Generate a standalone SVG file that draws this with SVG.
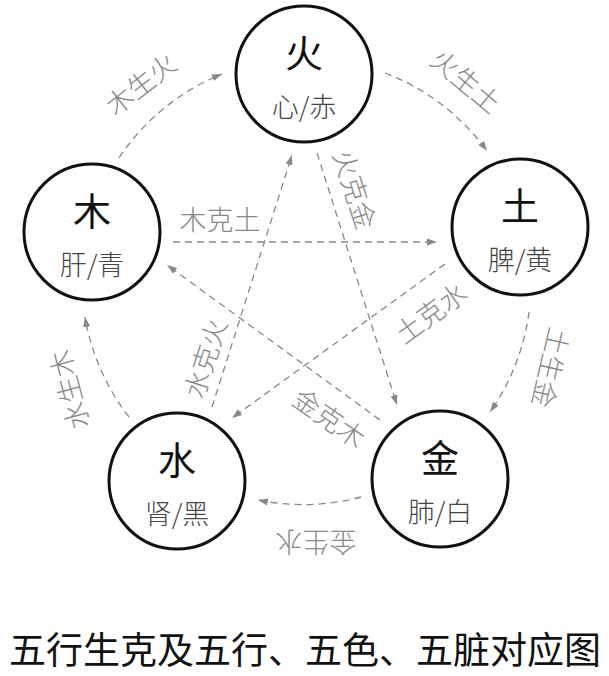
<svg xmlns="http://www.w3.org/2000/svg" width="609" height="676" viewBox="0 0 609 676">
<defs>
<marker id="arr" markerUnits="userSpaceOnUse" markerWidth="11" markerHeight="8" refX="10" refY="4" orient="auto">
<path d="M0,0.5 L10,4 L0,7.5 z" fill="#888"/>
</marker>
<style>
.node circle{fill:#fff;stroke:#111;stroke-width:3}
.main{font-family:"Noto Sans CJK SC","Noto Sans CJK JP",sans-serif;font-size:38px;font-weight:400;fill:#111;text-anchor:middle;dominant-baseline:central}
.sub{font-family:"Noto Sans CJK SC","Noto Sans CJK JP",sans-serif;font-size:27px;font-weight:300;fill:#444;text-anchor:middle;dominant-baseline:central}
.edge{fill:none;stroke:#888;stroke-width:1.3;stroke-dasharray:7 5;marker-end:url(#arr)}
.lbl{font-family:"Noto Sans CJK SC","Noto Sans CJK JP",sans-serif;font-size:27px;font-weight:300;fill:#888;text-anchor:middle;dominant-baseline:central}
.cap{font-family:"Noto Sans CJK SC","Noto Sans CJK JP",sans-serif;font-size:37px;fill:#111;text-anchor:middle}
</style>
</defs>
<rect width="609" height="676" fill="#fff"/>
<g id="connectors">
<path class="edge" d="M119,158 A224,224 0 0 1 222,74"/>
<path class="edge" d="M385,73 A224,224 0 0 1 487,151"/>
<path class="edge" d="M529,312 A224,224 0 0 1 490,412"/>
<path class="edge" d="M361,497 A224,224 0 0 1 258,500"/>
<path class="edge" d="M129,417 A224,224 0 0 1 85,317"/>
<path class="edge" d="M173,242 L437,242"/>
<path class="edge" d="M317,153 L397,405"/>
<path class="edge" d="M212,407 L292,155"/>
<path class="edge" d="M445,264 L232,418"/>
<path class="edge" d="M380,420 L167,265"/>
<text class="lbl" transform="translate(140,83) rotate(-38)">木生火</text>
<text class="lbl" transform="translate(467,80) rotate(40)">火生土</text>
<text class="lbl" transform="translate(552,368) rotate(103)">土生金</text>
<text class="lbl" transform="translate(316,543) rotate(180)">金生水</text>
<text class="lbl" transform="translate(68,390) rotate(-105)">水生木</text>
<text class="lbl" transform="translate(220,218)">木克土</text>
<text class="lbl" transform="translate(356,189) rotate(72)">火克金</text>
<text class="lbl" transform="translate(204,358) rotate(-72)">水克火</text>
<text class="lbl" transform="translate(430,312) rotate(-36)">土克水</text>
<text class="lbl" transform="translate(330,417) rotate(35)">金克木</text>
</g>
<g id="node-huo" class="node">
<circle cx="304" cy="74" r="68"/>
<text class="main" x="304" y="50">火</text>
<text class="sub" x="304" y="105">心/赤</text>
</g>
<g id="node-mu" class="node">
<circle cx="92" cy="232" r="68"/>
<text class="main" x="92" y="208">木</text>
<text class="sub" x="92" y="263">肝/青</text>
</g>
<g id="node-tu" class="node">
<circle cx="520" cy="227" r="68"/>
<text class="main" x="520" y="203">土</text>
<text class="sub" x="520" y="258">脾/黄</text>
</g>
<g id="node-shui" class="node">
<circle cx="177" cy="481" r="68"/>
<text class="main" x="177" y="457">水</text>
<text class="sub" x="177" y="512">肾/黑</text>
</g>
<g id="node-jin" class="node">
<circle cx="440" cy="479" r="68"/>
<text class="main" x="440" y="455">金</text>
<text class="sub" x="440" y="510">肺/白</text>
</g>
<text id="caption" class="cap" x="305" y="664">五行生克及五行、五色、五脏对应图</text>
</svg>
